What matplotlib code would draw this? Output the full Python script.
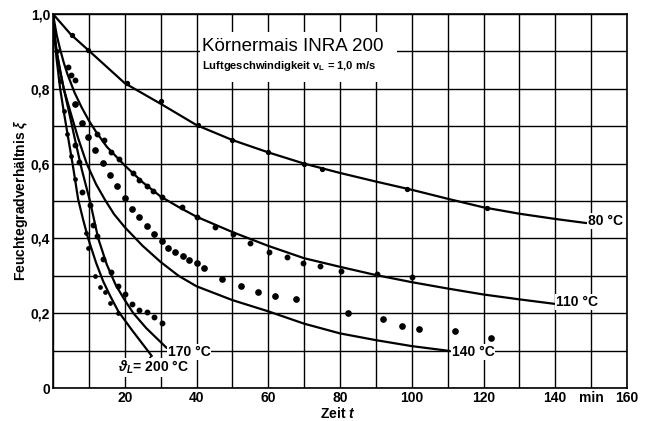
import matplotlib
matplotlib.use("Agg")
import matplotlib.pyplot as plt
from matplotlib.patches import Rectangle
from matplotlib import font_manager

# ---------------- data ----------------
c80_t = [0, 5, 10, 20, 30, 40, 50, 60, 70, 80, 90, 100, 110, 120, 130, 140, 148.7]
c80_y = [1.0, 0.945, 0.902, 0.815, 0.760, 0.703, 0.663, 0.630, 0.600, 0.575, 0.552, 0.530, 0.506, 0.483, 0.466, 0.452, 0.441]

c110_t = [0, 1, 2, 3, 4, 5, 6, 8, 10, 12, 15, 20, 25, 30, 35, 40, 50, 60, 70, 80, 90, 100, 110, 120, 130, 139.8]
c110_y = [1.0, 0.945, 0.905, 0.870, 0.840, 0.815, 0.790, 0.750, 0.715, 0.685, 0.645, 0.595, 0.550, 0.512, 0.484, 0.458, 0.417, 0.380, 0.347, 0.324, 0.302, 0.283, 0.266, 0.250, 0.237, 0.225]

c140_t = [0, 0.5, 1, 2, 3, 4.7, 7, 9.4, 12, 14.5, 17, 20, 25, 30, 35, 40, 50, 60, 70, 80, 90, 100, 110.6]
c140_y = [1.0, 0.94, 0.90, 0.845, 0.800, 0.743, 0.668, 0.600, 0.545, 0.503, 0.465, 0.430, 0.380, 0.337, 0.300, 0.272, 0.235, 0.205, 0.172, 0.146, 0.128, 0.112, 0.099]

c170_t = [0, 0.5, 1, 2, 3, 4.3, 6, 8, 10.3, 12.6, 15, 17.5, 20, 22.4, 26, 31.7]
c170_y = [1.0, 0.94, 0.90, 0.85, 0.80, 0.745, 0.670, 0.585, 0.500, 0.400, 0.330, 0.275, 0.235, 0.200, 0.160, 0.107]

c200_t = [0, 0.5, 1, 2, 2.9, 4.3, 5.7, 7, 8.4, 9.8, 12, 14, 16, 18.2, 22, 27.5]
c200_y = [1.0, 0.93, 0.88, 0.80, 0.745, 0.665, 0.585, 0.505, 0.450, 0.400, 0.335, 0.285, 0.245, 0.205, 0.155, 0.086]

d80_t = [5.3, 9.8, 20.5, 30, 40.4, 50, 60, 70, 75, 98.6, 121]
d80_y = [0.944, 0.904, 0.816, 0.767, 0.703, 0.663, 0.631, 0.600, 0.585, 0.532, 0.480]

d110_t = [4.2, 5.0, 6.1, 12.3, 14.2, 16.1, 18.4, 22.3, 24.0, 26.2, 27.9, 30.3, 35.9, 40.1, 45.1, 50.1,
          54.9, 60.2, 65.2, 69.6, 74.5, 80.2, 90.2, 100.0]
d110_y = [0.858, 0.837, 0.824, 0.680, 0.663, 0.631, 0.612, 0.575, 0.556, 0.540, 0.527, 0.510, 0.484, 0.457,
          0.430, 0.411, 0.387, 0.363, 0.350, 0.334, 0.326, 0.313, 0.305, 0.297]

d140_t = [6.1, 8.1, 9.8, 11.7, 13.9, 15.9, 17.8, 20.0, 22.0, 24.0, 26.1, 28.1, 30.3, 32.1, 34.0, 36.1, 37.9,
          40.2, 42.1, 47.0, 52.3, 57.2, 61.9, 67.7, 82.2, 92.0, 97.2, 102.0, 112.0, 122.0]
d140_y = [0.759, 0.709, 0.672, 0.636, 0.602, 0.570, 0.540, 0.508, 0.479, 0.457, 0.433, 0.411, 0.393, 0.375,
          0.363, 0.353, 0.342, 0.335, 0.320, 0.291, 0.273, 0.258, 0.246, 0.238, 0.200, 0.185, 0.166, 0.158,
          0.152, 0.134]

d170_t = [6.1, 7.2, 8.1, 10.3, 11.2, 12.2, 14.0, 16.1, 18.0, 20.0, 22.1, 24.0, 26.1, 28.2, 30.3]
d170_y = [0.650, 0.604, 0.524, 0.489, 0.436, 0.406, 0.345, 0.310, 0.273, 0.251, 0.224, 0.208, 0.204, 0.189, 0.175]

d200_t = [1.0, 2.0, 3.0, 4.0, 5.0, 6.0, 9.3, 9.8, 11.7, 13.0, 14.5, 15.9, 18.1]
d200_y = [0.90, 0.82, 0.74, 0.68, 0.62, 0.56, 0.414, 0.374, 0.300, 0.270, 0.257, 0.227, 0.200]

x_ticks = list(range(0, 161, 10))
x_labels = ["", "", "20", "", "40", "", "60", "", "80", "", "100", "", "120", "", "140", "min", "160"]
y_ticks = [i / 10 for i in range(11)]
y_labels = ["0", "", "0,2", "", "0,4", "", "0,6", "", "0,8", "", "1,0"]

title = "Körnermais INRA 200"
subtitle = r"Luftgeschwindigkeit $\mathregular{v_L}$ = 1,0 m/s"
ylabel = r"Feuchtegradverhältnis $\xi$"
xlabel = r"Zeit $t$"
curve_labels = ["80 °C", "110 °C", "140 °C", "170 °C", r"$\vartheta_L$= 200 °C"]

# ---------------- style ----------------
names = {f.name for f in font_manager.fontManager.ttflist}
fam = "Liberation Sans Narrow" if "Liberation Sans Narrow" in names else "Liberation Sans"
plt.rcParams["font.family"] = [fam, "DejaVu Sans"]
plt.rcParams["mathtext.fontset"] = "custom"
plt.rcParams["mathtext.rm"] = fam
plt.rcParams["mathtext.it"] = fam + ":italic:bold"
plt.rcParams["mathtext.bf"] = fam + ":bold"

fs = 10
fig = plt.figure(figsize=(6.52, 4.21), dpi=100)
fig.patch.set_facecolor("white")
ax = fig.add_axes([53 / 652, 1 - 388 / 421, 574 / 652, 374 / 421])
ax.set_xlim(0, 160)
ax.set_ylim(0, 1)
ax.set_xticks(x_ticks)
ax.set_xticklabels(x_labels)
ax.set_yticks(y_ticks)
ax.set_yticklabels(y_labels)
ax.tick_params(length=0, labelsize=fs, pad=2.5)
for lab in ax.get_xticklabels() + ax.get_yticklabels():
    lab.set_fontweight("bold")
ax.tick_params(axis="y", pad=2)
ax.grid(True, color="black", lw=1.0)
ax.set_axisbelow(True)
for s in ax.spines.values():
    s.set_linewidth(1.2)
    s.set_color("black")

# white box behind the title
ax.add_patch(Rectangle((41, 0.818), 54.8, 0.134, facecolor="white", edgecolor="none", zorder=1.5))
ax.text(41.5, 0.912, title, fontsize=13.5, va="center", ha="left", zorder=3)
ax.text(41.5, 0.862, subtitle, fontsize=8, fontweight="bold", va="center", ha="left", zorder=3)

lw = 1.6
for t, y in [(c80_t, c80_y), (c110_t, c110_y), (c140_t, c140_y), (c170_t, c170_y), (c200_t, c200_y)]:
    ax.plot(t, y, color="black", lw=lw, zorder=3, solid_capstyle="round")

ax.plot(d80_t, d80_y, "o", color="black", ms=2.8, zorder=4, ls="none")
ax.plot(d110_t, d110_y, "o", color="black", ms=3.2, zorder=4, ls="none")
ax.plot(d140_t, d140_y, "o", color="black", ms=3.8, zorder=4, ls="none")
ax.plot(d170_t, d170_y, "o", color="black", ms=3.2, zorder=4, ls="none")
ax.plot(d200_t, d200_y, "o", color="black", ms=2.4, zorder=4, ls="none")

bb = dict(facecolor="white", edgecolor="none", pad=0.6)
ax.text(c80_t[-1] + 0.3, c80_y[-1] + 0.005, curve_labels[0], fontsize=fs, fontweight="bold",
        va="center", ha="left", zorder=5, bbox=bb)
ax.text(c110_t[-1] + 0.5, c110_y[-1] + 0.005, curve_labels[1], fontsize=fs, fontweight="bold",
        va="center", ha="left", zorder=5, bbox=bb)
ax.text(c140_t[-1] + 0.5, c140_y[-1] - 0.003, curve_labels[2], fontsize=fs, fontweight="bold",
        va="center", ha="left", zorder=5, bbox=bb)
ax.text(c170_t[-1] + 0.3, c170_y[-1] - 0.01, curve_labels[3], fontsize=fs, fontweight="bold",
        va="center", ha="left", zorder=5, bbox=bb)
ax.plot([c200_t[-1], c200_t[-1] - 1.8], [c200_y[-1], c200_y[-1] - 0.02], color="black", lw=1.2, zorder=3)
ax.text(18.0, 0.056, curve_labels[4], fontsize=fs, fontweight="bold",
        va="center", ha="left", zorder=5, bbox=bb)

ax.text(74.4, -0.068, xlabel, fontsize=fs, fontweight="bold", va="center", ha="left", clip_on=False)
fig.text(21 / 652, 1 - 200 / 421, ylabel, rotation=90, fontsize=fs, fontweight="bold",
         va="center", ha="center")

fig.savefig("out.png", dpi=100, facecolor="white")
